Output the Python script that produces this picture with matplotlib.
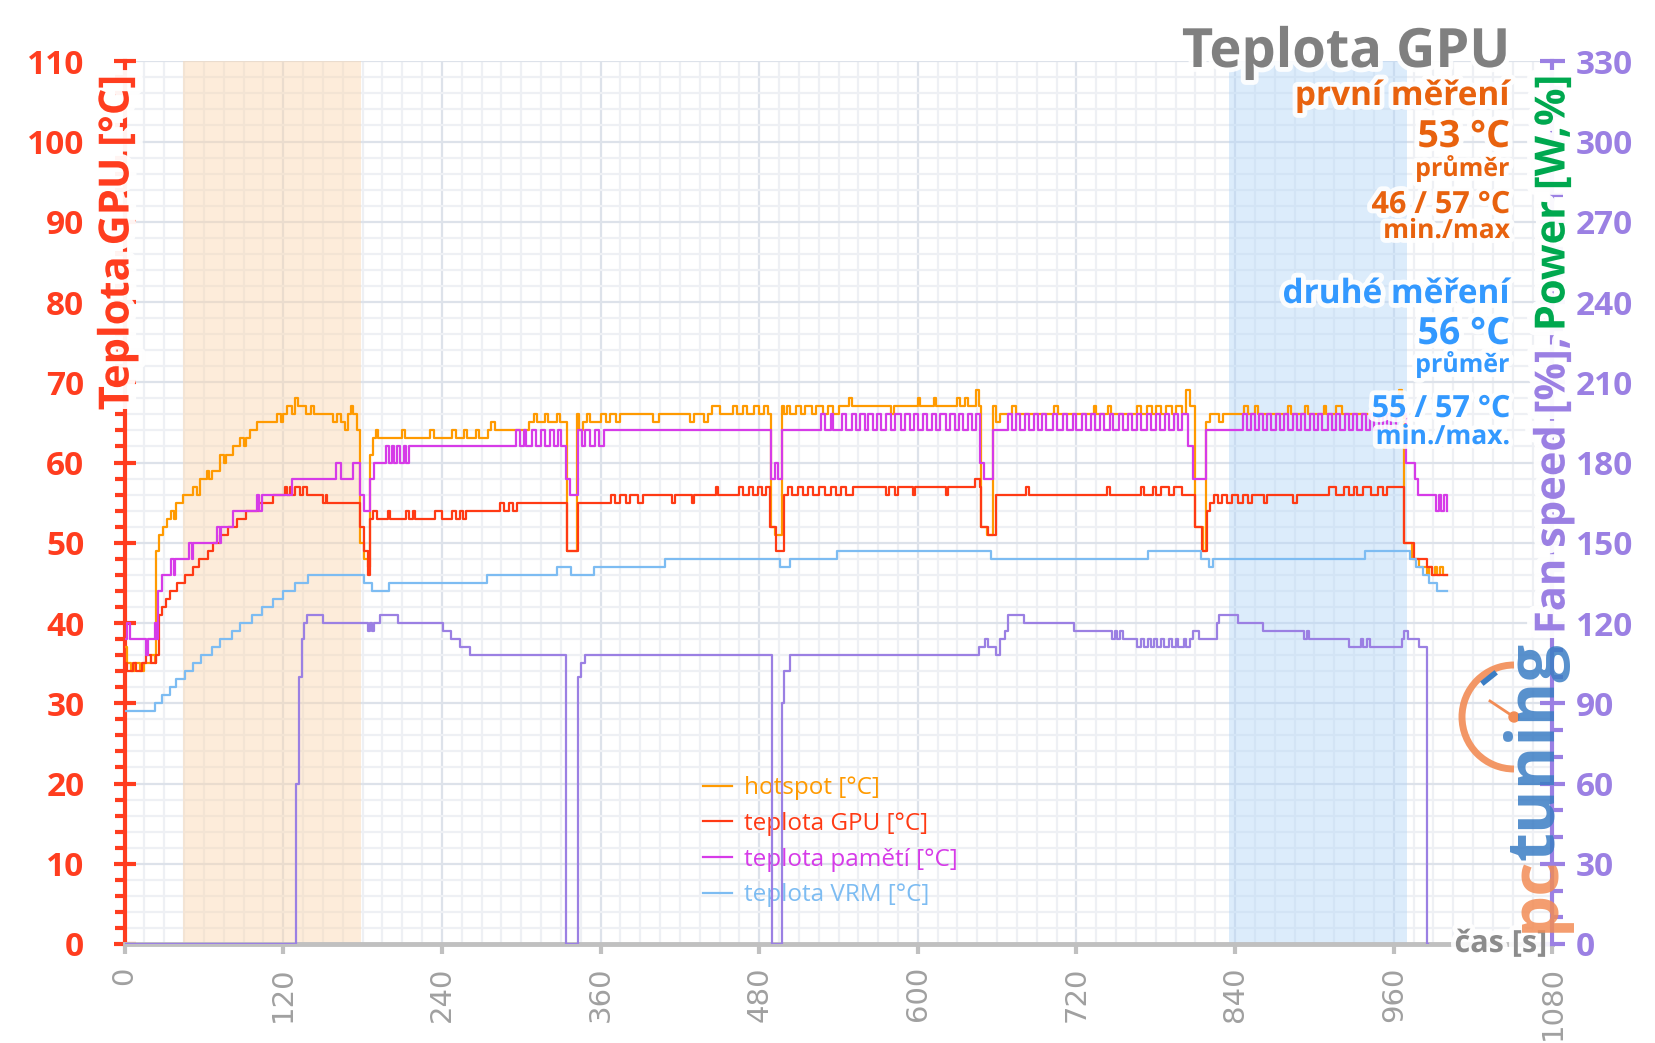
import numpy as np
import matplotlib
matplotlib.use('Agg')
from matplotlib import pyplot as plt
from matplotlib import patheffects as pe
from matplotlib.patches import Arc, Circle
from matplotlib.ticker import MultipleLocator

""" Data read from the chart: (time [s], value) break points, steps """
hotspot = [(0,37),(2,35),(5,34),(8,35),(12,34),(15,35),(20,36),(23,35),(24,49),(26,51),(29,52),(32,53),
           (35,54),(37,53),(39,55),(44,56),(52,57),(55,56),(57,58),(62,59),(64,58),(66,59),(72,61),(75,60),
           (77,61),(82,62),(87,63),(90,62),(92,63),(95,64),(100,65),(115,66),(118,65),(120,66),(123,67),
           (127,66),(129,68),(131,67),(137,66),(141,67),(143,66),(158,65),(161,66),(164,65),(167,64),
           (169,66),(171,67),(173,66),(176,64),(178,50),(181,48),(184,47),(186,61),(188,63),(190,64),
           (192,63),(210,64),(212,63),(231,64),(234,63),(248,64),(251,63),(257,64),(259,63),(266,64),
           (268,63),(275,64),(277,65),(280,64),(306,65),(310,66),(312,65),(318,66),(320,65),(327,66),
           (329,65),(335,49),(342,66),(344,64),(347,65),(350,66),(352,65),(360,66),(364,65),(367,66),
           (372,65),(375,66),(400,65),(404,66),(428,65),(431,66),(438,65),(441,66),(444,67),(450,66),
           (460,67),(463,66),(468,67),(471,66),(476,67),(480,66),(484,67),(487,66),(489,52),(492,51),
           (497,67),(499,66),(501,67),(503,66),(508,67),(512,66),(515,67),(520,66),(523,67),(528,66),
           (532,67),(536,66),(540,67),(548,68),(550,67),(580,66),(582,67),(600,68),(602,67),(612,68),
           (614,67),(630,68),(632,67),(636,68),(638,67),(644,69),(646,67),(648,52),(652,51),(657,67),
           (659,65),(662,66),(671,67),(674,66),(703,67),(706,66),(733,67),(735,66),(744,67),(746,66),
           (766,67),(769,66),(773,67),(777,66),(780,67),(784,66),(788,67),(792,66),(795,67),(800,66),
           (803,69),(806,67),(810,52),(816,49),(818,65),(821,66),(828,65),(831,66),(847,67),(850,66),
           (855,67),(857,66),(880,67),(882,66),(893,67),(895,66),(907,67),(909,66),(916,67),(921,66),
           (964,69),(966,66),(968,50),(974,48),(979,47),(985,46),(987,47),(989,46),(991,47),(993,46),
           (995,47),(997,46),(1000,46)]

gpu = [(0,35),(2,34),(6,35),(9,34),(13,35),(16,36),(20,35),(24,36),(26,41),(28,42),(31,43),(34,44),
       (40,45),(46,46),(52,47),(56,48),(63,49),(67,50),(72,51),(78,52),(85,53),(92,54),(102,55),(112,56),
       (121,57),(123,56),(125,57),(127,56),(129,57),(133,56),(135,57),(138,56),(150,55),(152,56),(153,55),
       (178,52),(181,49),(184,46),(186,53),(188,54),(191,53),(199,54),(201,53),(213,54),(215,53),(218,54),
       (220,53),(235,54),(240,53),(248,54),(251,53),(254,54),(256,53),(258,54),(284,55),(287,54),(291,55),
       (294,54),(297,55),(335,49),(343,55),(368,56),(371,55),(375,56),(379,55),(382,56),(388,55),(392,56),
       (414,55),(416,56),(429,55),(431,56),(447,57),(449,56),(465,57),(468,56),(472,57),(475,56),(479,57),
       (482,56),(485,57),(488,52),(493,49),(499,56),(502,57),(505,56),(509,57),(513,56),(517,57),(521,56),
       (525,57),(530,56),(534,57),(538,56),(542,57),(546,56),(551,57),(576,56),(578,57),(583,56),(585,57),
       (596,56),(598,57),(621,56),(623,57),(643,58),(647,57),(648,52),(653,51),(659,56),(682,57),(684,56),
       (743,57),(745,56),(769,57),(771,56),(778,57),(780,56),(784,57),(790,56),(794,57),(800,56),(810,52),
       (815,49),(819,54),(821,55),(824,56),(827,55),(830,56),(834,55),(838,56),(842,55),(846,56),(850,55),
       (853,56),(862,55),(864,56),(884,55),(887,56),(911,57),(916,56),(922,57),(926,56),(930,57),(932,56),
       (937,57),(943,56),(948,57),(952,56),(955,57),(968,50),(975,48),(985,47),(989,46),(1000,46)]

memory = [(0,38),(2,40),(4,38),(16,36),(18,38),(23,40),(24,38),(25,44),(28,46),(35,48),(37,46),(38,48),
          (49,50),(51,48),(52,50),(70,52),(72,50),(73,52),(82,54),(100,56),(102,54),(104,56),(127,58),
          (160,60),(164,58),(173,60),(178,56),(181,54),(186,58),(189,60),(198,62),(200,60),(202,62),
          (204,60),(206,62),(208,60),(211,62),(213,60),(215,62),(296,64),(299,62),(302,64),(304,62),
          (308,64),(311,62),(315,64),(318,62),(322,64),(325,62),(328,64),(330,62),(334,58),(337,56),
          (343,64),(346,62),(348,64),(352,62),(356,64),(359,62),(363,64),(489,58),(492,60),(494,58),
          (497,64),(527,66),(530,64),(534,66),(536,64),(543,66),(546,64),(550,66),(553,64),(556,66),
          (560,64),(562,66),(566,64),(569,66),(572,64),(576,66),(580,64),(583,66),(587,64),(590,66),
          (594,64),(597,66),(600,64),(604,66),(607,64),(611,66),(614,64),(617,66),(621,64),(624,66),
          (628,64),(631,66),(634,64),(638,66),(641,64),(644,66),(647,60),(650,58),(657,64),(668,66),
          (671,64),(674,66),(677,64),(681,66),(684,64),(688,66),(691,64),(694,66),(697,64),(702,66),
          (705,64),(710,66),(713,64),(717,66),(720,64),(724,66),(727,64),(731,66),(734,64),(738,66),
          (741,64),(745,66),(748,64),(752,66),(755,64),(759,66),(762,64),(766,66),(769,64),(773,66),
          (776,64),(780,66),(783,64),(787,66),(790,64),(794,66),(797,64),(800,66),(804,62),(808,58),
          (818,64),(846,66),(849,64),(852,66),(855,64),(858,66),(861,64),(864,66),(867,64),(871,66),
          (874,64),(877,66),(880,64),(884,66),(887,64),(890,66),(893,64),(897,66),(900,64),(903,66),
          (906,64),(910,66),(913,64),(916,66),(919,64),(923,66),(926,64),(929,66),(932,64),(936,66),
          (939,64),(942,66),(945,64),(949,66),(952,64),(955,66),(958,64),(962,66),(967,66),(969,60),
          (976,58),(978,56),(992,54),(994,56),(996,54),(998,56),(1000,54)]

vrm = [(0,29),(23,30),(28,31),(34,32),(39,33),(46,34),(52,35),(58,36),(66,37),(72,38),(81,39),(87,40),
       (96,41),(104,42),(112,43),(120,44),(129,45),(139,46),(181,45),(187,44),(200,45),(274,46),(327,47),
       (338,46),(355,47),(409,48),(496,47),(503,48),(539,49),(655,48),(774,49),(814,48),(820,47),
       (823,48),(938,49),(972,48),(977,47),(982,46),(987,45),(993,44),(1000,44)]

# fan speed, right axis [%]
fan = [(0,0),(129,0),(130,60),(132,100),(134,114),(136,120),(138,123),(150,120),(184,117),(186,120),
       (187,117),(189,120),(193,123),(207,120),(241,117),(247,114),(254,111),(261,108),(334,0),
       (343,100),(345,105),(348,108),(490,0),(497,90),(499,102),(503,108),(646,111),(651,114),
       (653,111),(659,108),(662,114),(666,117),(668,123),(680,120),(718,117),(747,114),(749,117),
       (751,114),(753,117),(755,114),(766,111),(769,114),(771,111),(774,114),(776,111),(779,114),
       (781,111),(784,114),(786,111),(790,114),(792,111),(795,114),(797,111),(801,114),(803,111),
       (806,114),(808,117),(813,114),(826,120),(828,123),(842,120),(861,117),(892,114),(894,117),
       (896,114),(926,111),(935,114),(937,111),(940,114),(942,111),(966,114),(968,117),(971,114),
       (979,111),(985,0),(986,0)]

labels = ['hotspot [°C]', 'teplota GPU [°C]', 'teplota pamětí [°C]', 'teplota VRM [°C]']
colors = ['#ff9a00', '#ff3a14', '#d63be8', '#7dbcf2']
fan_color = '#9b80e3'
red = '#ff3d1f'

spans = [(44, 179, '#fbd6ae'), (835, 970, '#b3d6f8')]

first = [('první měření', 24, 105), ('53 °C', 27, 147), ('průměr', 18, 176),
         ('46 / 57 °C', 22, 213), ('min./max', 19, 238)]
second = [('druhé měření', 24, 303), ('56 °C', 27, 344), ('průměr', 18, 372),
          ('55 / 57 °C', 22, 417), ('min./max.', 19, 444)]

plt.rcParams['font.family'] = ['Open Sans', 'DejaVu Sans']
W, H = 1656, 1043
glow = [pe.withStroke(linewidth=7, foreground='white', alpha=0.9)]
wide_glow = [pe.withStroke(linewidth=11, foreground='white', alpha=0.95)]

fig = plt.figure(figsize=(W / 100, H / 100), dpi=100)
ax = fig.add_axes([124.6 / W, 1 - 944 / H, (1552.4 - 124.6) / W, (944 - 61.3) / H])
ax2 = ax.twinx()

ax.set_xlim(0, 1080)
ax.set_ylim(0, 110)
ax2.set_ylim(0, 330)

ax.xaxis.set_major_locator(MultipleLocator(120))
ax.xaxis.set_minor_locator(MultipleLocator(15))
ax.yaxis.set_major_locator(MultipleLocator(10))
ax.yaxis.set_minor_locator(MultipleLocator(2))
ax2.yaxis.set_major_locator(MultipleLocator(30))
ax2.yaxis.set_minor_locator(MultipleLocator(10))

ax.set_axisbelow(True)
ax.grid(which='major', color='#dde2ea', lw=1.6)
ax.grid(which='minor', color='#eef0f4', lw=1.6)

for a, b, c in spans:
    ax.axvspan(a, b, color=c, alpha=0.45, lw=0, zorder=1)

for data, lab, col in zip([hotspot, gpu, memory, vrm], labels, colors):
    t, v = np.array(data).T
    ax.plot(t, v, color=col, lw=1.6, drawstyle='steps-post', label=lab, zorder=3)

t, v = np.array(fan).T
ax2.plot(t, v, color=fan_color, lw=1.6, drawstyle='steps-post', zorder=3)

# spines
for s in ['top', 'right']:
    ax.spines[s].set_visible(False)
for s in ['top', 'left', 'bottom']:
    ax2.spines[s].set_visible(False)
ax.spines['left'].set_color(red)
ax.spines['left'].set_linewidth(3)
ax.spines['bottom'].set_color('#c0c0c0')
ax.spines['bottom'].set_linewidth(3.5)
ax2.spines['right'].set_color(fan_color)
ax2.spines['right'].set_linewidth(3)

# ticks
ax.tick_params(axis='y', which='major', direction='inout', length=16, width=3, color=red,
               labelcolor=red, labelsize=24, pad=21)
ax.tick_params(axis='y', which='minor', direction='out', length=7, width=3, color=red)
ax.tick_params(axis='x', which='major', direction='out', length=7, width=3, color='#c0c0c0',
               labelcolor='#a0a0a0', labelsize=21, pad=9, labelrotation=90)
ax.tick_params(axis='x', which='minor', length=0)
ax2.tick_params(axis='y', which='major', direction='inout', length=18, width=3, color=fan_color,
                labelcolor=fan_color, labelsize=24, pad=8)
ax2.tick_params(axis='y', which='minor', direction='out', length=8, width=3, color=fan_color)
for lbl in ax.get_yticklabels() + ax2.get_yticklabels():
    lbl.set_fontweight('bold')
for lbl in ax.get_xticklabels():
    lbl.set_fontfamily('DejaVu Sans')

leg = ax.legend(loc='upper left', bbox_to_anchor=(0.405, 0.19), frameon=False,
                prop={'family': 'Open Sans', 'size': 17.5}, labelcolor='linecolor',
                handlelength=1.2, handletextpad=0.5, labelspacing=0.48, borderaxespad=0, borderpad=0)

# texts
fig.text(1510 / W, 1 - 67 / H, 'Teplota GPU', ha='right', va='baseline', fontsize=39,
         fontweight='bold', color='#808080', path_effects=glow)
for s, size, y in first:
    fig.text(1510 / W, 1 - y / H, s, ha='right', va='baseline', fontsize=size,
             fontweight='bold', color='#e8620e', path_effects=glow)
for s, size, y in second:
    fig.text(1510 / W, 1 - y / H, s, ha='right', va='baseline', fontsize=size,
             fontweight='bold', color='#3399ff', path_effects=glow)

fig.text(118 / W, 1 - 75 / H, 'Teplota GPU [°C]', rotation=90, ha='center', va='top',
         fontsize=30, fontweight='bold', color=red, path_effects=wide_glow, zorder=10)
p1 = fig.text(1554 / W, 1 - 75 / H, 'Power [W,%]', rotation=90, ha='center', va='top',
              fontsize=30, fontweight='bold', color='#00a84f', path_effects=wide_glow, zorder=10)
fig.canvas.draw()
bb = p1.get_window_extent()
fig.text(1554 / W, (bb.y0 - 6) / H, 'Fan speed [%],', rotation=90, ha='center', va='top',
         fontsize=30, fontweight='bold', color=fan_color, path_effects=wide_glow, zorder=10)

fig.text(1547 / W, 1 - 944 / H, 'čas [s]', ha='right', va='center', fontsize=22,
         fontweight='bold', color='#8c8c8c', path_effects=glow)

# logo
lg = fig.add_axes([0, 0, 1, 1], zorder=5)
lg.set_xlim(0, W)
lg.set_ylim(H, 0)
lg.axis('off')
lg.add_patch(Arc((1514, 717), 104, 104, theta1=90, theta2=270, color='#f28c55', lw=5, alpha=0.9))
lg.plot([1514, 1490], [717, 701], color='#f28c55', lw=2)
lg.add_patch(Circle((1514, 717), 5, color='#f28c55'))
lg.plot([1484, 1494], [682, 674], color='#3a7dc4', lw=4)
pc = lg.text(1536, 932, 'pc', rotation=90, ha='center', va='bottom', fontsize=48,
             fontweight='bold', color='#f28c55', alpha=0.85)
fig.canvas.draw()
pc_top = H - pc.get_window_extent().y1
lg.text(1536, pc_top + 4, 'tuning', rotation=90, ha='center', va='bottom', fontsize=48,
        fontweight='bold', color='#3a7dc4', alpha=0.85)

fig.savefig('out.png', dpi=100)
